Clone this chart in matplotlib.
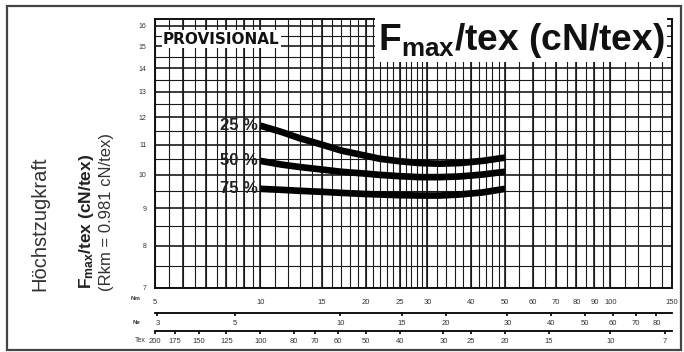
import matplotlib
matplotlib.use('Agg')
import matplotlib.pyplot as plt
from matplotlib.ticker import FixedLocator, FixedFormatter, NullLocator, NullFormatter
from matplotlib.patches import Rectangle
import numpy as np

# ---- data ----
nm_points = [10, 11.5, 13, 15, 17, 19.5, 22, 25, 28.5, 32.5, 37, 43, 50]
p25 = [11.68, 11.45, 11.22, 11.0, 10.8, 10.65, 10.52, 10.44, 10.38, 10.36, 10.38, 10.45, 10.56]
p50 = [10.45, 10.33, 10.25, 10.17, 10.1, 10.05, 10.0, 9.96, 9.93, 9.93, 9.95, 10.01, 10.1]
p75 = [9.57, 9.54, 9.51, 9.48, 9.45, 9.42, 9.4, 9.38, 9.37, 9.37, 9.4, 9.46, 9.57]
series_labels = ['25 %', '50 %', '75 %']

nm_ticks = [5, 10, 15, 20, 25, 30, 40, 50, 60, 70, 80, 90, 100, 150]
ne_ticks = [3, 5, 10, 15, 20, 30, 40, 50, 60, 70, 80]
tex_ticks = [200, 175, 150, 125, 100, 80, 70, 60, 50, 40, 30, 25, 20, 15, 10, 7]
y_ticks = [7, 8, 9, 10, 11, 12, 13, 14, 15, 16]

plt.rcParams['font.family'] = ['Liberation Sans', 'DejaVu Sans']
plt.rcParams['mathtext.fontset'] = 'custom'
plt.rcParams['mathtext.rm'] = 'Liberation Sans'
plt.rcParams['mathtext.bf'] = 'Liberation Sans:bold'
plt.rcParams['mathtext.it'] = 'Liberation Sans:italic'

W, H = 684, 352
fig = plt.figure(figsize=(W / 100, H / 100), dpi=100)
def fx(px): return px / W
def fy(py): return 1 - py / H

ax = fig.add_axes([fx(155), fy(288), fx(672) - fx(155), fy(19) - fy(288)])
ax.set_xscale('log')
ax.set_yscale('log')
ax.set_xlim(5, 150)
ax.set_ylim(7, 16.35)

gc = '#1a1a1a'
# vertical grid
xgrid_minor = list(np.arange(5, 10, 0.5)) + list(range(10, 20)) + list(range(20, 30)) + \
    list(range(30, 50, 2)) + list(range(50, 100, 5)) + list(range(100, 151, 10))
xgrid_major = [5, 6, 7, 8, 9, 10, 15, 20, 25, 30, 40, 50, 60, 70, 80, 90, 100, 150]
for x in xgrid_minor:
    ax.axvline(x, color=gc, lw=0.8, zorder=1)
for x in xgrid_major:
    ax.axvline(x, color=gc, lw=1.2, zorder=1)
# horizontal grid
for y in np.arange(7, 16.01, 0.5):
    ax.axhline(y, color=gc, lw=1.2 if float(y).is_integer() else 0.8, zorder=1)

for vals, lab in zip([p25, p50, p75], series_labels):
    ax.plot(nm_points, vals, color='black', lw=4.8, solid_capstyle='butt', zorder=3)
    ax.annotate(lab, xy=(nm_points[0], vals[0]), xytext=(-2, 0), textcoords='offset points',
                ha='right', va='center', fontsize=12, fontweight='bold', color='#222', zorder=4)

ax.xaxis.set_major_locator(FixedLocator(nm_ticks))
ax.xaxis.set_major_formatter(FixedFormatter([str(t) for t in nm_ticks]))
ax.xaxis.set_minor_locator(NullLocator())
ax.yaxis.set_major_locator(FixedLocator(y_ticks))
ax.yaxis.set_major_formatter(FixedFormatter([str(t) for t in y_ticks]))
ax.yaxis.set_minor_locator(NullLocator())
ax.tick_params(axis='x', length=0, pad=8, labelsize=5.5, labelcolor='#333')
ax.tick_params(axis='y', length=0, pad=6, labelsize=5, labelcolor='#333')
for s in ax.spines.values():
    s.set_linewidth(1.4)
    s.set_color('#111')

# secondary scales
ne = ax.secondary_xaxis(-0.094, functions=(lambda x: x / 1.693, lambda x: x * 1.693))
ne.set_xticks(ne_ticks)
ne.set_xticklabels([str(t) for t in ne_ticks])
ne.xaxis.set_minor_locator(NullLocator())
ne.xaxis.set_minor_formatter(NullFormatter())
ne.tick_params(axis='x', which='major', direction='out', length=2.5, width=1.2, pad=2.5,
               labelsize=5.5, labelcolor='#333')
ne.tick_params(axis='x', which='minor', length=0)
ne.spines['bottom'].set_linewidth(1.3)

tex = ax.secondary_xaxis(-0.16, functions=(lambda x: 1000.0 / x, lambda x: 1000.0 / x))
tex.set_xticks(tex_ticks)
tex.set_xticklabels([str(t) for t in tex_ticks])
tex.xaxis.set_minor_locator(NullLocator())
tex.xaxis.set_minor_formatter(NullFormatter())
tex.tick_params(axis='x', which='major', direction='out', length=2.5, width=1.2, pad=2.5,
                labelsize=5.5, labelcolor='#333')
tex.tick_params(axis='x', which='minor', length=0)
tex.spines['bottom'].set_linewidth(1.3)

fig.text(fx(136), fy(299), 'Nm', fontsize=4.5, ha='center', va='center', fontweight='bold', color='#333')
fig.text(fx(137), fy(322), 'Ne', fontsize=4.5, ha='center', va='center', fontweight='bold', color='#333')
fig.text(fx(140), fy(341), 'Tex', fontsize=5, ha='center', va='center', color='#333')

# in-chart texts
ax.text((163 - 155) / 517, (288 - 39) / 269, 'PROVISIONAL', transform=ax.transAxes,
        fontsize=11, fontweight='bold', family='DejaVu Sans', ha='left', va='center',
        color='#111', bbox=dict(fc='white', ec='none', pad=1.0), zorder=5)
ax.text((378 - 155) / 517, (288 - 40) / 269, r'$\mathbf{F}_{\mathbf{max}}$/tex (cN/tex)',
        transform=ax.transAxes, fontsize=26.7, fontweight='bold', ha='left', va='center',
        color='#111', bbox=dict(fc='white', ec='none', pad=2.0), zorder=5)

# left labels
fig.text(fx(40), fy(224), 'Höchstzugkraft', rotation=90, fontsize=14.5, ha='center', va='center', color='#333')
fig.text(fx(86), fy(221), r'$\mathbf{F}_{\mathbf{max}}$/tex (cN/tex)', rotation=90, fontsize=12.5,
         fontweight='bold', ha='center', va='center', color='#222')
fig.text(fx(106), fy(212), '(Rkm = 0.981 cN/tex)', rotation=90, fontsize=12, ha='center', va='center', color='#333')

fig.add_artist(Rectangle((fx(7), fy(350)), fx(681) - fx(7), fy(6) - fy(350), transform=fig.transFigure,
                         fill=False, lw=1.6, ec='#444'))

fig.savefig('out.png', dpi=100)
